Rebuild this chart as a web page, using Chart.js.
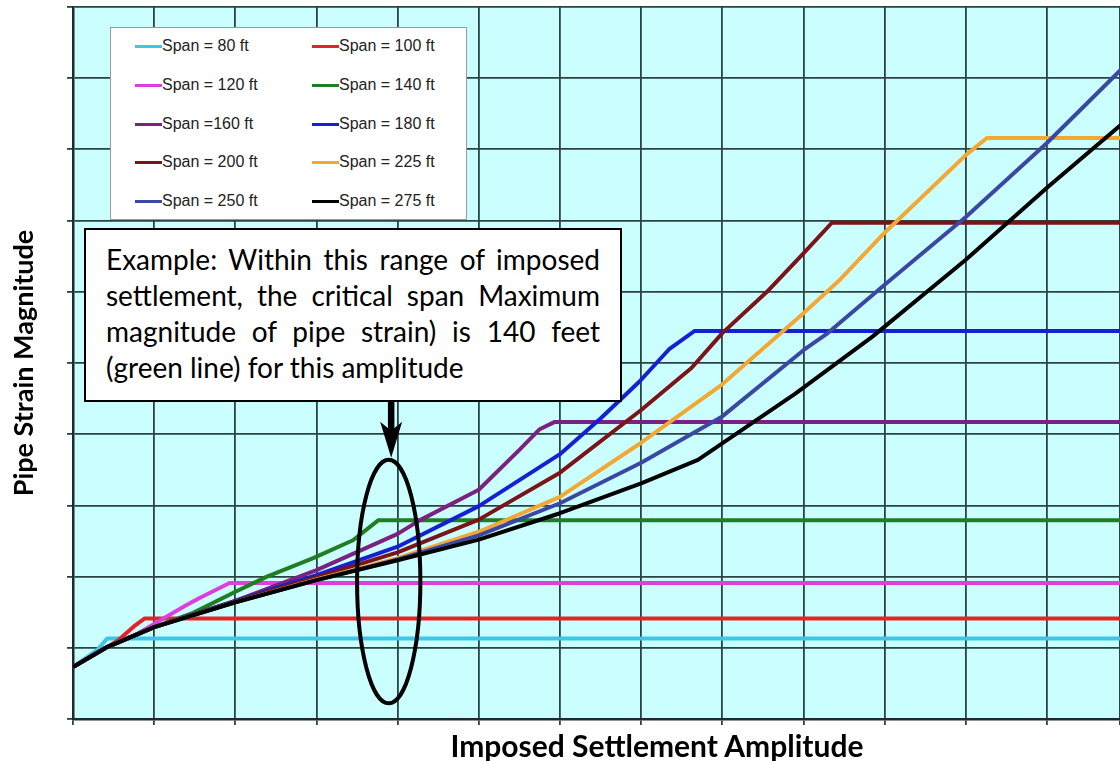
<!DOCTYPE html>
<html>
<head>
<meta charset="utf-8">
<title>Pipe Strain vs Imposed Settlement</title>
<script src="https://cdn.jsdelivr.net/npm/chart.js@4.4.1/dist/chart.umd.min.js"></script>
<style>
    html, body { margin: 0; padding: 0; background: #fff; overflow: hidden; }
    #wrap { position: relative; width: 1120px; height: 761px; }
    #chart { position: absolute; left: 0; top: 0; }
    #legend {
        position: absolute; left: 110px; top: 27px; width: 357px; height: 193px;
        box-sizing: border-box; background: #fff; border: 1px solid #9a9a9a;
        font-family: "Liberation Sans", Arial, sans-serif; font-size: 16px; color: #222;
    }
    .legend-item { position: absolute; height: 20px; line-height: 20px; white-space: nowrap; }
    .legend-item .swatch { position: absolute; left: 0; top: 9px; width: 27px; height: 3px; }
    .legend-item .text { position: absolute; left: 27px; top: 0; }
    #note {
        position: absolute; left: 84px; top: 228px; width: 538px; height: 174px;
        box-sizing: border-box; background: #fff; border: 2.5px solid #000;
        padding: 11px 20px 0 20px;
        font-family: Lato, "Open Sans", sans-serif; font-size: 28px; line-height: 36px; color: #000;
    }
    #note .line { white-space: nowrap; }
    #note .just { text-align: justify; text-align-last: justify; white-space: normal; }
    #xTitle {
        position: absolute; left: 300px; width: 714px; top: 730px; text-align: center;
        font-family: Lato, "Open Sans", sans-serif; font-weight: bold; font-size: 30px; line-height: 30px; color: #000;
    }
</style>
</head>
<body>
<div id="wrap">
    <canvas id="chart" width="1120" height="761"></canvas>
    <div id="legend"></div>
    <div id="note">
        <div class="line just">Example: Within this range of imposed</div>
        <div class="line just">settlement, the critical span Maximum</div>
        <div class="line just">magnitude of pipe strain) is 140 feet</div>
        <div class="line">(green line) for this amplitude</div>
    </div>
    <div id="xTitle">Imposed Settlement Amplitude</div>
</div>
<script>
// Series labels and colours (legend order: left column then right column, row by row)
const spanLabels = ['Span = 80 ft', 'Span = 100 ft', 'Span = 120 ft', 'Span = 140 ft', 'Span =160 ft',
    'Span = 180 ft', 'Span = 200 ft', 'Span = 225 ft', 'Span = 250 ft', 'Span = 275 ft'];
const spanColors = ['#3ec6e8', '#e3222a', '#dd3fdc', '#1f7d22', '#7b2180',
    '#1420d2', '#7a1418', '#f3a833', '#3b48a3', '#000000'];

// Settlement amplitude (x, grid units) vs strain magnitude (y, grid units)
const span80 = [[0, 0.73], [0.3, 0.97], [0.42, 1.13], [13, 1.13]];
const span100 = [[0, 0.73], [0.42, 1.01], [0.55, 1.1], [0.75, 1.3], [0.88, 1.41], [13, 1.41]];
const span120 = [[0, 0.73], [0.42, 1.01], [0.8, 1.2], [1.02, 1.35], [1.4, 1.6], [1.56, 1.7], [1.93, 1.91], [13, 1.91]];
const span140 = [[0, 0.73], [0.42, 1.01], [1, 1.29], [1.48, 1.49], [1.97, 1.77], [2.39, 2.0], [2.96, 2.26],
    [3.45, 2.51], [3.76, 2.79], [13, 2.79]];
const span160 = [[0, 0.73], [0.42, 1.01], [1, 1.29], [2, 1.66], [3, 2.09], [4, 2.6], [4.27, 2.79], [5, 3.22],
    [5.5, 3.78], [5.75, 4.07], [5.93, 4.17], [13, 4.17]];
const span180 = [[0, 0.73], [0.42, 1.01], [1, 1.29], [2, 1.66], [3, 2.02], [4, 2.42], [5, 2.99], [6, 3.72],
    [6.5, 4.22], [6.98, 4.74], [7.35, 5.2], [7.66, 5.45], [13, 5.45]];
const span200 = [[0, 0.73], [0.42, 1.01], [1, 1.29], [2, 1.65], [3, 1.99], [4, 2.34], [5, 2.8], [6, 3.46],
    [7, 4.34], [7.62, 4.93], [8, 5.42], [8.55, 6.0], [9, 6.54], [9.35, 6.97], [13, 6.97]];
const span225 = [[0, 0.73], [0.42, 1.01], [1, 1.29], [2, 1.64], [3, 1.96], [4, 2.26], [5, 2.63], [6, 3.12],
    [7, 3.88], [8, 4.7], [9, 5.7], [9.45, 6.17], [10, 6.83], [11, 7.92], [11.26, 8.16], [13, 8.16]];
const span250 = [[0, 0.73], [0.42, 1.01], [1, 1.29], [2, 1.64], [3, 1.95], [4, 2.24], [5, 2.58], [6, 3.03],
    [7, 3.6], [8, 4.25], [9, 5.18], [9.3, 5.42], [10, 6.1], [11, 7.05], [12, 8.09], [13, 9.22]];
const span275 = [[0, 0.73], [0.42, 1.01], [1, 1.29], [2, 1.64], [3, 1.95], [4, 2.23], [5, 2.52], [6, 2.89],
    [7, 3.31], [7.7, 3.64], [8.9, 4.57], [9.85, 5.37], [11, 6.45], [12, 7.46], [13, 8.43]];

const spanSeries = [span80, span100, span120, span140, span160, span180, span200, span225, span250, span275];

// Axis ranges (grid units); the right edge of the picture cuts the plot a little before x = 13
const xMin = 0, xMax = 12.9, yMin = 0, yMax = 10;

// Callout shapes in data units: ellipse around the critical range, arrow from the note box
const ellipseCenter = [3.89, 1.93];
const ellipseRadius = [0.39, 1.71];
const arrowTop = [3.92, 4.47];
const arrowTip = [3.92, 3.67];

const gridColor = '#2a4343';

// Fill the plot area with the light cyan background
const plotBackground = {
    id: 'plotBackground',
    beforeDraw(chart) {
        const { ctx, chartArea } = chart;
        ctx.save();
        ctx.fillStyle = '#cbfefe';
        ctx.fillRect(chartArea.left, chartArea.top, chartArea.right - chartArea.left, chartArea.bottom - chartArea.top);
        ctx.restore();
    }
};

// Draw the ellipse and the arrow on top of the lines
const calloutShapes = {
    id: 'calloutShapes',
    afterDatasetsDraw(chart) {
        const { ctx, scales: { x, y } } = chart;
        ctx.save();
        ctx.strokeStyle = '#000';
        ctx.fillStyle = '#000';

        const cx = x.getPixelForValue(ellipseCenter[0]);
        const cy = y.getPixelForValue(ellipseCenter[1]);
        const rx = x.getPixelForValue(ellipseCenter[0] + ellipseRadius[0]) - cx;
        const ry = cy - y.getPixelForValue(ellipseCenter[1] + ellipseRadius[1]);
        ctx.lineWidth = 4;
        ctx.beginPath();
        ctx.ellipse(cx, cy, rx, ry, 0, 0, Math.PI * 2);
        ctx.stroke();

        const ax = x.getPixelForValue(arrowTop[0]);
        const top = y.getPixelForValue(arrowTop[1]);
        const tip = y.getPixelForValue(arrowTip[1]);
        const headLen = 36;
        ctx.lineWidth = 6.5;
        ctx.beginPath();
        ctx.moveTo(ax, top);
        ctx.lineTo(ax, tip - headLen + 10);
        ctx.stroke();
        ctx.beginPath();
        ctx.moveTo(ax, tip);
        ctx.lineTo(ax - 11, tip - headLen);
        ctx.lineTo(ax, tip - headLen + 9);
        ctx.lineTo(ax + 11, tip - headLen);
        ctx.closePath();
        ctx.fill();
        ctx.restore();
    }
};

// Build the HTML legend from the series labels and colours
function buildLegend() {
    const legend = document.getElementById('legend');
    spanLabels.forEach((label, i) => {
        const item = document.createElement('div');
        item.className = 'legend-item';
        item.style.left = (i % 2 === 0 ? 24 : 201) + 'px';
        item.style.top = (8 + Math.floor(i / 2) * 38.8) + 'px';
        const swatch = document.createElement('span');
        swatch.className = 'swatch';
        swatch.style.background = spanColors[i];
        const text = document.createElement('span');
        text.className = 'text';
        text.textContent = label;
        item.appendChild(swatch);
        item.appendChild(text);
        legend.appendChild(item);
    });
}

function renderChart() {
    const datasets = spanSeries.map((points, i) => ({
        label: spanLabels[i],
        data: points.map(p => ({ x: p[0], y: p[1] })),
        borderColor: spanColors[i],
        backgroundColor: spanColors[i],
        borderWidth: 4,
        pointRadius: 0,
        tension: 0,
        fill: false,
        borderJoinStyle: 'round',
        order: spanSeries.length - i   // longest span drawn on top
    }));

    new Chart(document.getElementById('chart'), {
        type: 'line',
        data: { datasets },
        options: {
            responsive: false,
            animation: false,
            devicePixelRatio: 1,
            layout: { padding: { top: 7, right: 0, left: 0, bottom: 0 } },
            plugins: {
                legend: { display: false },
                tooltip: { enabled: false }
            },
            scales: {
                x: {
                    type: 'linear',
                    min: xMin,
                    max: xMax,
                    ticks: { display: false, stepSize: 1 },
                    grid: { color: gridColor, lineWidth: 1.8, tickLength: 6, tickColor: gridColor, tickWidth: 1.8 },
                    border: { color: '#1b2b2b', width: 2.5 },
                    afterFit: scale => { scale.height = 42; }
                },
                y: {
                    type: 'linear',
                    min: yMin,
                    max: yMax,
                    ticks: { display: false, stepSize: 1 },
                    grid: { color: gridColor, lineWidth: 1.8, tickLength: 6, tickColor: gridColor, tickWidth: 1.8 },
                    border: { color: '#1b2b2b', width: 2.5 },
                    title: {
                        display: true,
                        text: 'Pipe Strain Magnitude',
                        color: '#000',
                        font: { family: 'Lato', size: 27, weight: 'bold' },
                        padding: { top: 8, bottom: 0 }
                    },
                    afterFit: scale => { scale.width = 73; }
                }
            }
        },
        plugins: [plotBackground, calloutShapes]
    });
}

document.addEventListener('DOMContentLoaded', () => {
    buildLegend();
    renderChart();
});
</script>
</body>
</html>
